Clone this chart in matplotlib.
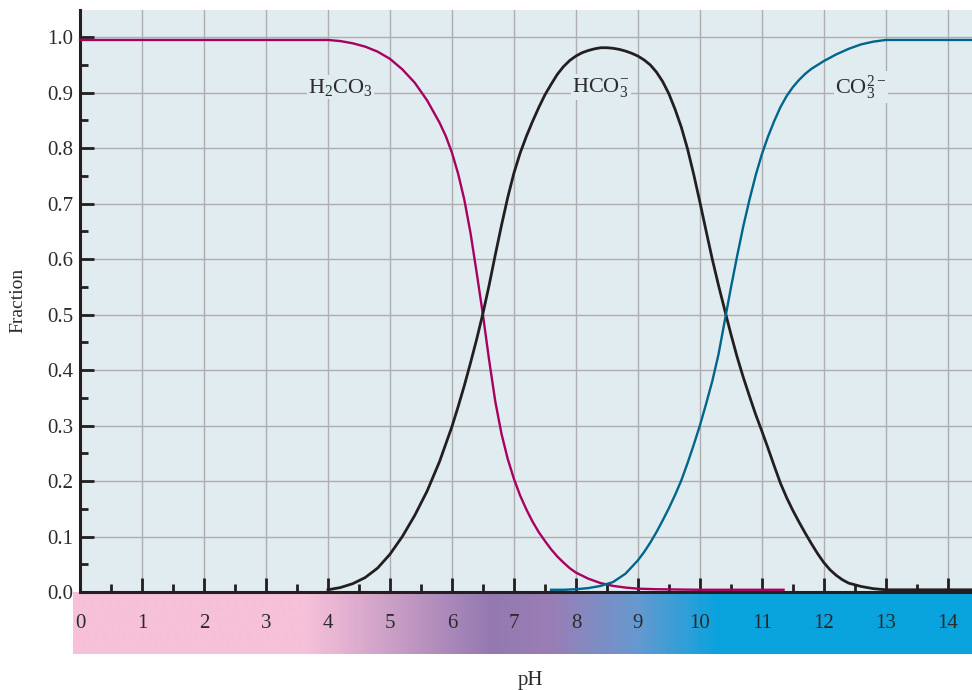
import matplotlib
matplotlib.use("Agg")
import matplotlib.pyplot as plt
import numpy as np
from matplotlib.colors import LinearSegmentedColormap
from matplotlib.ticker import MultipleLocator

plt.rcParams['font.family'] = ['Liberation Serif', 'DejaVu Serif']
plt.rcParams['mathtext.fontset'] = 'custom'
plt.rcParams['mathtext.rm'] = 'Liberation Serif'
plt.rcParams['mathtext.it'] = 'Liberation Serif:italic'

# values
ph_h2co3 = [0, 1, 2, 3, 4.0, 4.2, 4.4, 4.6, 4.8, 5.0, 5.2, 5.4, 5.6, 5.8, 5.9, 6.0,
            6.1, 6.2, 6.3, 6.4, 6.5, 6.6, 6.7, 6.8, 6.9, 7.0, 7.1, 7.2, 7.3, 7.4,
            7.5, 7.6, 7.7, 7.8, 7.9, 8.0, 8.2, 8.4, 8.6, 8.8, 9.0, 9.3, 10.0, 11.35]
frac_h2co3 = [0.995, 0.995, 0.995, 0.995, 0.995, 0.993, 0.989, 0.983, 0.974, 0.961,
              0.942, 0.918, 0.886, 0.846, 0.822, 0.792, 0.754, 0.707, 0.647, 0.575,
              0.500, 0.418, 0.343, 0.285, 0.240, 0.204, 0.174, 0.149, 0.127, 0.108,
              0.092, 0.077, 0.064, 0.053, 0.043, 0.035, 0.024, 0.016, 0.011, 0.008,
              0.006, 0.005, 0.004, 0.004]

ph_hco3 = [4.0, 4.2, 4.4, 4.6, 4.8, 5.0, 5.2, 5.4, 5.6, 5.8, 6.0, 6.1, 6.2, 6.3, 6.4,
           6.5, 6.6, 6.7, 6.8, 6.9, 7.0, 7.1, 7.2, 7.3, 7.4, 7.5, 7.6, 7.7, 7.8, 7.9,
           8.0, 8.1, 8.2, 8.3, 8.4, 8.5, 8.6, 8.7, 8.8, 8.9, 9.0, 9.1, 9.2, 9.3, 9.4,
           9.5, 9.6, 9.7, 9.8, 9.9, 10.0, 10.1, 10.2, 10.3, 10.42, 10.5, 10.6, 10.7,
           10.8, 10.9, 11.0, 11.1, 11.2, 11.3, 11.4, 11.5, 11.6, 11.7, 11.8, 11.9,
           12.0, 12.1, 12.2, 12.3, 12.4, 12.6, 12.8, 13.0, 14.4]
frac_hco3 = [0.004, 0.008, 0.015, 0.026, 0.043, 0.068, 0.100, 0.138, 0.182, 0.235,
             0.298, 0.334, 0.372, 0.413, 0.456, 0.502, 0.553, 0.608, 0.661, 0.711,
             0.755, 0.791, 0.821, 0.848, 0.873, 0.896, 0.915, 0.933, 0.947, 0.958,
             0.966, 0.972, 0.976, 0.979, 0.981, 0.981, 0.980, 0.978, 0.975, 0.971,
             0.966, 0.959, 0.950, 0.937, 0.920, 0.898, 0.870, 0.838, 0.799, 0.753,
             0.703, 0.651, 0.600, 0.553, 0.500, 0.465, 0.424, 0.387, 0.353, 0.320,
             0.290, 0.259, 0.227, 0.196, 0.170, 0.147, 0.126, 0.106, 0.087, 0.069,
             0.053, 0.040, 0.030, 0.022, 0.016, 0.010, 0.006, 0.004, 0.004]

ph_co3 = [7.6, 7.8, 8.0, 8.2, 8.4, 8.6, 8.8, 9.0, 9.1, 9.2, 9.3, 9.4, 9.5, 9.6, 9.7,
          9.8, 9.9, 10.0, 10.1, 10.2, 10.3, 10.42, 10.5, 10.6, 10.7, 10.8, 10.9,
          11.0, 11.1, 11.2, 11.3, 11.4, 11.5, 11.6, 11.7, 11.8, 11.9, 12.0, 12.2,
          12.4, 12.6, 12.8, 13.0, 14.4]
frac_co3 = [0.004, 0.004, 0.005, 0.007, 0.011, 0.018, 0.033, 0.057, 0.072, 0.089,
            0.108, 0.129, 0.151, 0.175, 0.201, 0.232, 0.265, 0.300, 0.339, 0.380,
            0.428, 0.500, 0.548, 0.605, 0.659, 0.707, 0.751, 0.789, 0.821, 0.849,
            0.874, 0.894, 0.910, 0.923, 0.934, 0.943, 0.950, 0.957, 0.969, 0.979,
            0.987, 0.992, 0.995, 0.995]

species = [r'H$_2$CO$_3$', r'HCO$_3^{-}$', r'CO$_3^{2-}$']
label_ph = [4.2, 8.4, 12.6]
label_frac = [0.91, 0.91, 0.91]

ph_ticks = list(range(0, 15))
frac_ticks = [0.0, 0.1, 0.2, 0.3, 0.4, 0.5, 0.6, 0.7, 0.8, 0.9, 1.0]

# colour band stops (pH, colour)
band_ph = [-0.12, 3.6, 4.5, 6.6, 7.6, 9.0, 10.3, 14.4]
band_col = ['#f6c1d9', '#f6c1d9', '#dcabcd', '#9479b1', '#9a7eb5', '#6699d0', '#09a3dd', '#09a3dd']

W, H = 972, 690
fig = plt.figure(figsize=(W / 100, H / 100), dpi=100)

xmax = 14.39
# colour band under the axis
axb = fig.add_axes([73 / W, 36 / H, (W - 73) / W, 62 / H])
lo, hi = band_ph[0], xmax
pos = [(p - lo) / (hi - lo) for p in band_ph]
pos[-1] = 1.0
cmap = LinearSegmentedColormap.from_list('ph', list(zip(pos, band_col)))
axb.imshow(np.linspace(0, 1, 500).reshape(1, -1), cmap=cmap, aspect='auto',
           extent=[lo, hi, 0, 1])
axb.set_xlim(lo, hi)
axb.set_ylim(0, 1)
axb.axis('off')
for t in ph_ticks:
    axb.text(t, 0.5, str(t), ha='center', va='center', fontsize=15, color='#2b2b2b')

ax = fig.add_axes([80 / W, (H - 592) / H, (W - 80) / W, 582 / H])
ax.set_facecolor('#e1ecf1')
ax.set_xlim(0, xmax)
ax.set_ylim(0, 1.049)
ax.set_xticks(ph_ticks)
ax.xaxis.set_minor_locator(MultipleLocator(0.5))
ax.set_yticks(frac_ticks)
ax.yaxis.set_minor_locator(MultipleLocator(0.05))
ax.set_yticklabels([f"{v:.1f}" for v in frac_ticks], fontsize=15, color='#2b2b2b')
ax.tick_params(axis='x', which='both', labelbottom=False)
ax.tick_params(which='major', direction='in', length=10, width=2, color='#231f20', pad=5)
ax.tick_params(which='minor', direction='in', length=6, width=2, color='#231f20')
ax.grid(True, which='major', color='#aeaeae', linewidth=1)
ax.set_axisbelow(True)
for s in ['top', 'right']:
    ax.spines[s].set_visible(False)
for s in ['left', 'bottom']:
    ax.spines[s].set_linewidth(2.2)
    ax.spines[s].set_color('#231f20')

ax.plot(ph_h2co3, frac_h2co3, color='#a8005f', lw=1.7, zorder=3, clip_on=False)
ax.plot(ph_hco3, frac_hco3, color='#231f20', lw=2.0, zorder=3, clip_on=False)
ax.plot(ph_co3, frac_co3, color='#00658b', lw=1.7, zorder=3, clip_on=False)

for name, x, y in zip(species, label_ph, label_frac):
    ax.text(x, y, name, ha='center', va='center', fontsize=16, color='#2b2b2b', zorder=4,
            bbox=dict(facecolor='#e1ecf1', edgecolor='none', pad=1))

fig.text(18 / W, 1 - 300 / H, 'Fraction', rotation=90, ha='center', va='center',
         fontsize=14, color='#2b2b2b')
fig.text(530 / W, 1 - 680 / H, 'pH', ha='center', va='center', fontsize=15, color='#2b2b2b')

fig.savefig('out.png', dpi=100)
